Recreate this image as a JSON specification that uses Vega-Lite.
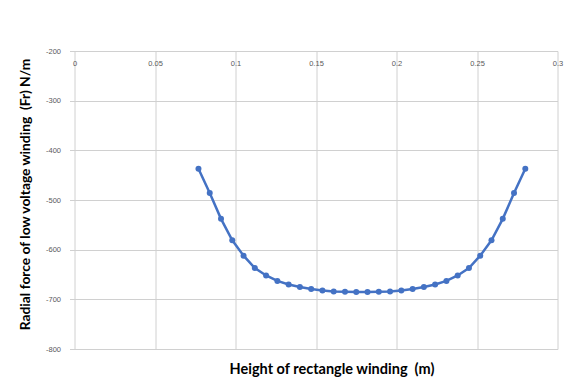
{
  "$schema": "https://vega.github.io/schema/vega-lite/v6.json",
  "autosize": {"type": "none"},
  "padding": {"left": 74.5, "top": 51, "right": 27.5, "bottom": 39},
  "width": 483,
  "height": 298,
  "background": "white",
  "config": {"view": {"stroke": null}, "font": "Lato"},
  "data": {"values": [
    {"h": 0.077, "f": -437},
    {"h": 0.084, "f": -486},
    {"h": 0.091, "f": -538},
    {"h": 0.098, "f": -581},
    {"h": 0.105, "f": -612},
    {"h": 0.112, "f": -637},
    {"h": 0.119, "f": -652},
    {"h": 0.126, "f": -663},
    {"h": 0.133, "f": -670},
    {"h": 0.140, "f": -675},
    {"h": 0.147, "f": -679},
    {"h": 0.154, "f": -682},
    {"h": 0.161, "f": -684},
    {"h": 0.168, "f": -684.5},
    {"h": 0.175, "f": -685},
    {"h": 0.182, "f": -685},
    {"h": 0.189, "f": -684.5},
    {"h": 0.196, "f": -684},
    {"h": 0.203, "f": -682},
    {"h": 0.210, "f": -679},
    {"h": 0.217, "f": -675},
    {"h": 0.224, "f": -670},
    {"h": 0.231, "f": -663},
    {"h": 0.238, "f": -652},
    {"h": 0.245, "f": -637},
    {"h": 0.252, "f": -612},
    {"h": 0.259, "f": -581},
    {"h": 0.266, "f": -538},
    {"h": 0.273, "f": -486},
    {"h": 0.280, "f": -437}
  ]},
  "mark": {"type": "line", "color": "#4472C4", "strokeWidth": 2.5, "point": {"filled": true, "size": 36, "color": "#4472C4", "opacity": 1}},
  "encoding": {
    "x": {
      "field": "h", "type": "quantitative",
      "scale": {"domain": [0, 0.3], "nice": false, "zero": false},
      "axis": {
        "orient": "top",
        "values": [0, 0.05, 0.1, 0.15, 0.2, 0.25, 0.3],
        "labelExpr": "'' + datum.value",
        "labelFlush": false,
        "ticks": false,
        "domain": false,
        "grid": true,
        "gridColor": "#d0d0d0",
        "gridWidth": 1,
        "labelPadding": -16,
        "labelBaseline": "bottom",
        "labelFontSize": 7.5,
        "labelColor": "#595959",
        "labelFont": "Liberation Sans",
        "title": "Height of rectangle winding\u00a0 (m)",
        "titleFont": "Lato",
        "titleFontSize": 14.5,
        "titleFontWeight": "bold",
        "titleColor": "#000000",
        "titleX": 257,
        "titleY": 318,
        "titleAlign": "center",
        "titleBaseline": "middle"
      }
    },
    "y": {
      "field": "f", "type": "quantitative",
      "scale": {"domain": [-800, -200], "nice": false, "zero": false},
      "axis": {
        "values": [-800, -700, -600, -500, -400, -300, -200],
        "labelExpr": "'' + datum.value",
        "domain": false,
        "grid": true,
        "gridColor": "#d0d0d0",
        "gridWidth": 1,
        "ticks": true,
        "tickSize": 5,
        "tickColor": "#d0d0d0",
        "labelPadding": 9,
        "labelFontSize": 7.5,
        "labelColor": "#595959",
        "labelFont": "Liberation Sans",
        "title": "Radial force of low voltage winding\u00a0 (Fr) N/m",
        "titleFont": "Lato",
        "titleFontSize": 13.8,
        "titleFontWeight": "bold",
        "titleColor": "#000000",
        "titleAngle": -90,
        "titleX": -49.5,
        "titleY": 143,
        "titleAlign": "center",
        "titleBaseline": "middle"
      }
    }
  }
}
